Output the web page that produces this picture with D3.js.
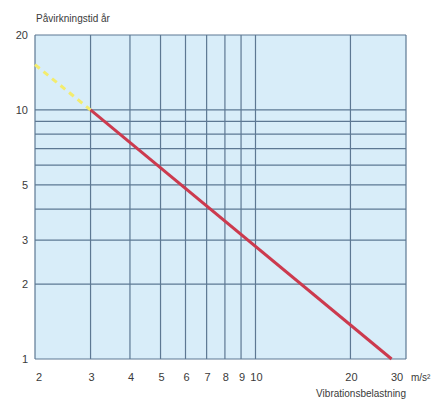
<!DOCTYPE html>
<html>
<head>
<meta charset="utf-8">
<script src="https://cdn.jsdelivr.net/npm/d3@7"></script>
<style>
  body { margin: 0; background: #fff; }
  text { font-family: "Liberation Sans", Arial, sans-serif; fill: #3a3a3a; }
</style>
</head>
<body>
<script>
const xGrid = [2, 3, 4, 5, 6, 7, 8, 9, 10, 20, 30];
const xTickLabels = [2, 3, 4, 5, 6, 7, 8, 9, 10, 20, 30];
const yGrid = [1, 2, 3, 4, 5, 6, 7, 8, 9, 10, 20];
const yTickLabels = [1, 2, 3, 5, 10, 20];
// exposure limit line (m/s², years)
const limitLine = [[3, 10], [27, 1]];
const extrapolated = [[2, 15.2], [3, 10]];

const width = 441, height = 400;
const margin = {top: 35, right: 35, bottom: 41, left: 35};

const x = d3.scaleLog([2, 30], [margin.left, width - margin.right]);
const y = d3.scaleLog([1, 20], [height - margin.bottom, margin.top]);

const svg = d3.select("body").append("svg")
    .attr("width", width)
    .attr("height", height)
    .attr("viewBox", [0, 0, width, height]);

svg.append("rect")
    .attr("x", x(2))
    .attr("y", y(20))
    .attr("width", x(30) - x(2))
    .attr("height", y(1) - y(20))
    .attr("fill", "#d8edf9");

svg.append("g")
    .attr("stroke", "#5d7893")
    .attr("stroke-width", 1.2)
  .selectAll("line")
  .data(xGrid)
  .join("line")
    .attr("x1", d => x(d)).attr("x2", d => x(d))
    .attr("y1", y(1)).attr("y2", y(20));

svg.append("g")
    .attr("stroke", "#5d7893")
    .attr("stroke-width", 1.2)
  .selectAll("line")
  .data(yGrid)
  .join("line")
    .attr("x1", x(2)).attr("x2", x(30))
    .attr("y1", d => y(d)).attr("y2", d => y(d));

const line = d3.line().x(d => x(d[0])).y(d => y(d[1]));

svg.append("path")
    .datum(extrapolated)
    .attr("fill", "none")
    .attr("stroke", "#f3ec6e")
    .attr("stroke-width", 3)
    .attr("stroke-dasharray", "6,5")
    .attr("d", line);

svg.append("path")
    .datum(limitLine)
    .attr("fill", "none")
    .attr("stroke", "#cc3a4e")
    .attr("stroke-width", 3)
    .attr("d", line);

// tick labels
svg.append("g")
    .attr("font-size", 11)
    .attr("text-anchor", "end")
  .selectAll("text")
  .data(yTickLabels)
  .join("text")
    .attr("x", 28)
    .attr("y", d => y(d))
    .attr("dy", "0.35em")
    .text(d => d);

svg.append("g")
    .attr("font-size", 11)
    .attr("text-anchor", "middle")
  .selectAll("text")
  .data(xTickLabels)
  .join("text")
    .attr("x", d => x(d) + (d === 2 ? 4 : d === 30 ? -9 : 1))
    .attr("y", 377)
    .attr("dy", "0.35em")
    .text(d => d);

svg.append("text")
    .attr("x", 411)
    .attr("y", 377)
    .attr("dy", "0.35em")
    .attr("font-size", 10)
    .text("m/s²");

svg.append("text")
    .attr("x", x(30))
    .attr("y", 393)
    .attr("dy", "0.35em")
    .attr("text-anchor", "end")
    .attr("font-size", 10)
    .text("Vibrationsbelastning");

svg.append("text")
    .attr("x", 36)
    .attr("y", 22)
    .attr("font-size", 10)
    .text("Påvirkningstid år");
</script>
</body>
</html>
